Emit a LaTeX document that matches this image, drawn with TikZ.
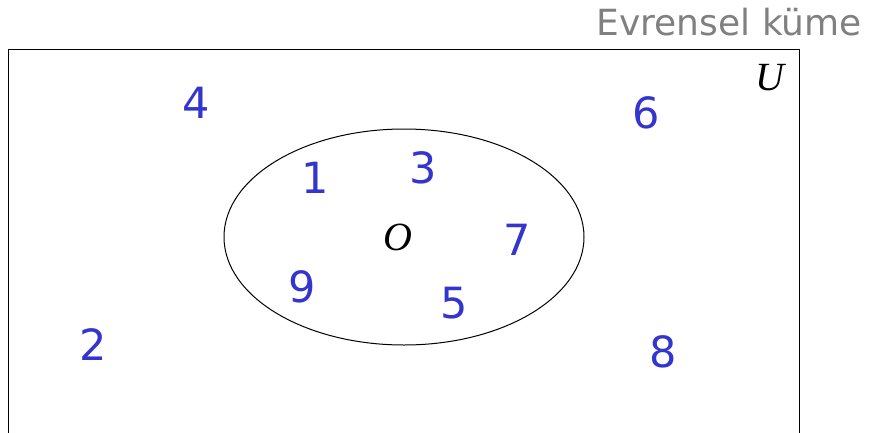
\documentclass[tikz,border=0pt]{standalone}
\usepackage{fontspec}
\setsansfont{DejaVu Sans}
\newfontfamily\conjfont{Liberation Serif}
\usetikzlibrary{positioning}

\definecolor{elemazul}{RGB}{52,52,206}
\definecolor{titgris}{RGB}{128,128,128}

\tikzset{
    elem/.style={text=elemazul, font=\sffamily\fontsize{43}{43}\selectfont, inner sep=0pt},
    conj/.style={font=\conjfont\itshape\fontsize{40}{40}\selectfont, inner sep=0pt}
}

\begin{document}
\begin{tikzpicture}[x=1pt,y=-1pt]
    % Establecer los límites del gráfico
    \useasboundingbox (0,0) rectangle (876,432);
    \clip (0,0) rectangle (876,432);

    % Dibujar el conjunto universal y el conjunto O
    \draw[line width=1pt] (8,49) rectangle (799,460);
    \draw[line width=1pt] (404,237) ellipse [x radius=180, y radius=108];

    % Etiquetas de los conjuntos
    \node[anchor=south east, text=titgris, font=\sffamily\fontsize{36}{36}\selectfont, inner sep=0pt] (tit) at (862,36) {Evrensel küme};
    \node[conj] (U) at (770,78) {U};
    \node[conj] (O) at (398,237) {O};

    % Elementos fuera del conjunto O
    \node[elem] (e4) at (196,103) {4};
    \node[elem] (e6) at (646,113) {6};
    \node[elem] (e2) at (93,345) {2};
    \node[elem] (e8) at (663,352) {8};

    % Elementos dentro del conjunto O
    \node[elem] (e1) at (315,178) {1};
    \node[elem] (e3) at (423,168) {3};
    \node[elem] (e7) at (517,240) {7};
    \node[elem] (e9) at (302,287) {9};
    \node[elem] (e5) at (454,303) {5};
\end{tikzpicture}
\end{document}
